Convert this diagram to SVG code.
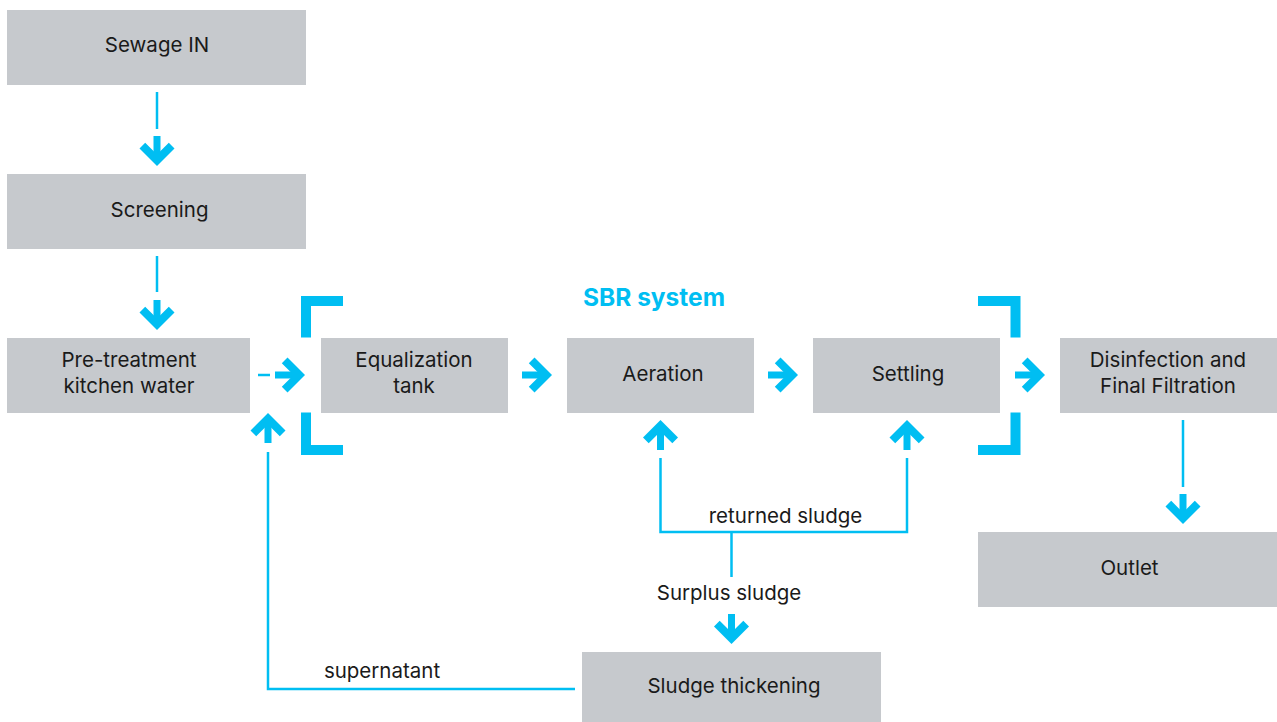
<svg xmlns="http://www.w3.org/2000/svg" xmlns:xlink="http://www.w3.org/1999/xlink" width="1277" height="722" viewBox="0 0 1277 722">
<style>
.box{fill:#c6c9cd}
.lbl{font-family:Inter,"Liberation Sans",sans-serif;font-size:20.5px;fill:#1a1a1a;text-anchor:middle}
.ln{fill:none;stroke:#00bef2;stroke-width:2.5}
.br{fill:none;stroke:#00bef2;stroke-width:10;stroke-linejoin:miter}
.ttl{font-family:Inter,"Liberation Sans",sans-serif;font-size:24.5px;font-weight:bold;fill:#00bef2;text-anchor:middle}
</style>
<defs>
<g id="ah" fill="#00bef2">
<polygon points="0,0 -17.5,-17.5 -11.8,-23.2 0,-11.4 11.8,-23.2 17.5,-17.5"/>
<rect x="-3.5" y="-30" width="7" height="20"/>
</g>
</defs>
<rect width="1277" height="722" fill="#ffffff"/>
<g id="n-sewage"><rect class="box" x="7" y="10" width="299" height="75"/><text class="lbl" x="157" y="52">Sewage IN</text></g>
<g id="n-screening"><rect class="box" x="7" y="174" width="299" height="75"/><text class="lbl" x="159.5" y="217">Screening</text></g>
<g id="n-pretreat"><rect class="box" x="7" y="338" width="243" height="75"/><text class="lbl" x="129" y="367">Pre-treatment</text><text class="lbl" x="129" y="393">kitchen water</text></g>
<g id="n-equal"><rect class="box" x="321" y="338" width="187" height="75"/><text class="lbl" x="414" y="367">Equalization</text><text class="lbl" x="414" y="393">tank</text></g>
<g id="n-aeration"><rect class="box" x="567" y="338" width="187" height="75"/><text class="lbl" x="663" y="381">Aeration</text></g>
<g id="n-settling"><rect class="box" x="813" y="338" width="187" height="75"/><text class="lbl" x="908" y="381">Settling</text></g>
<g id="n-disinf"><rect class="box" x="1060" y="338" width="217" height="75"/><text class="lbl" x="1168" y="367">Disinfection and</text><text class="lbl" x="1168" y="393">Final Filtration</text></g>
<g id="n-outlet"><rect class="box" x="978" y="532" width="299" height="75"/><text class="lbl" x="1129.5" y="575">Outlet</text></g>
<g id="n-thick"><rect class="box" x="582" y="652" width="299" height="70"/><text class="lbl" x="734" y="693">Sludge thickening</text></g>
<g id="sbr">
<path class="br" d="M343,301 H306 V337.5"/>
<path class="br" d="M306,412.5 V450 H343"/>
<path class="br" d="M978,301 H1015.5 V337.5"/>
<path class="br" d="M1015.5,412.5 V450 H978"/>
<text class="ttl" x="654" y="306">SBR system</text>
</g>
<g id="connectors">
<path class="ln" d="M157,92 V129"/>
<use xlink:href="#ah" transform="translate(157,166)"/>
<path class="ln" d="M157,256 V292"/>
<use xlink:href="#ah" transform="translate(157,330)"/>
<path class="ln" d="M258,375 H270"/>
<use xlink:href="#ah" transform="translate(305,375) rotate(-90)"/>
<use xlink:href="#ah" transform="translate(552,375) rotate(-90)"/>
<use xlink:href="#ah" transform="translate(798,375) rotate(-90)"/>
<use xlink:href="#ah" transform="translate(1045,375) rotate(-90)"/>
<path class="ln" d="M1183,420 V487"/>
<use xlink:href="#ah" transform="translate(1183,524)"/>
<path class="ln" d="M660.5,458 V532 H907 V458"/>
<use xlink:href="#ah" transform="translate(660.5,420) rotate(180)"/>
<use xlink:href="#ah" transform="translate(907,420) rotate(180)"/>
<path class="ln" d="M731.5,532 V577"/>
<use xlink:href="#ah" transform="translate(731.5,644)"/>
<path class="ln" d="M575,689 H268 V452"/>
<use xlink:href="#ah" transform="translate(268,413) rotate(180)"/>
<text class="lbl" x="785.5" y="523">returned sludge</text>
<text class="lbl" x="729" y="600">Surplus sludge</text>
<text class="lbl" x="382" y="678">supernatant</text>
</g>
</svg>
